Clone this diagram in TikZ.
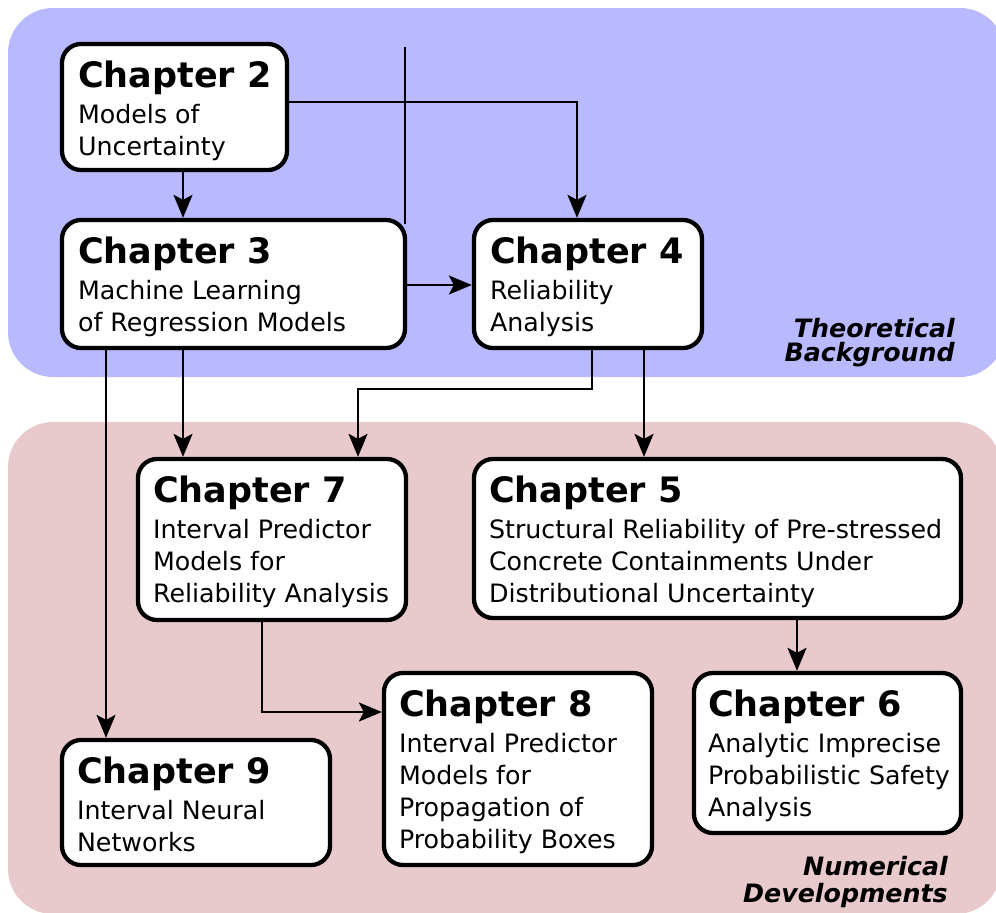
\documentclass[tikz,border=0pt]{standalone}
\usepackage{fontspec}
\setmainfont{DejaVu Sans}
\usetikzlibrary{arrows.meta,fit}

\definecolor{theorybg}{RGB}{185,185,255}
\definecolor{numericbg}{RGB}{232,201,204}

\tikzset{
  chbox/.style={draw=black, fill=white, line width=4.3pt, rounded corners=19pt, inner sep=0pt},
  chtitle/.style={anchor=base west, inner sep=0pt, font=\fontsize{35}{40}\selectfont\bfseries},
  chbody/.style={anchor=base west, inner sep=0pt, font=\fontsize{25.3}{32}\selectfont},
  conn/.style={line width=2.2pt},
  arr/.style={conn, -{Stealth[length=23pt,width=19pt,inset=5pt]}},
  region/.style={anchor=base east, inner sep=0pt, font=\fontsize{25.3}{24}\selectfont\bfseries\itshape},
}

\begin{document}
\begin{tikzpicture}[x=1pt,y=-1pt]
\useasboundingbox (0,0) rectangle (996,913);

% two shaded parts of the thesis
\fill[theorybg, rounded corners=45pt] (8,8) rectangle (1005,377);
\fill[numericbg, rounded corners=45pt] (8,422) rectangle (1001,914);

\node[region] (theory) at (955,337)
  {\parbox[t]{300pt}{\raggedleft Theoretical\\Background}};
\node[region, font=\fontsize{25.3}{27}\selectfont\bfseries\itshape] (numeric) at (948,875.5)
  {\parbox[t]{300pt}{\raggedleft Numerical\\Developments}};

% chapter boxes
\node[chbox, fit={(62,44) (287,170)}] (c2) {};
\node[chbox, fit={(62,220) (405,348)}] (c3) {};
\node[chbox, fit={(474,220) (702,348)}] (c4) {};
\node[chbox, fit={(138,459) (406,620)}] (c7) {};
\node[chbox, fit={(474,459) (961,618)}] (c5) {};
\node[chbox, fit={(384,673) (652,865)}] (c8) {};
\node[chbox, fit={(694,673) (961,833)}] (c6) {};
\node[chbox, fit={(62,740) (330,865)}] (c9) {};

% chapter titles and subtitles
\node[chtitle] (c2t) at ([shift={(18,46)}]c2.north west) {Chapter 2};
\node[chbody] (c2b) at ([shift={(0,36)}]c2t.base west)
  {\parbox[t]{400pt}{Models of\\Uncertainty}};

\node[chtitle] (c3t) at ([shift={(18,46)}]c3.north west) {Chapter 3};
\node[chbody] (c3b) at ([shift={(0,36)}]c3t.base west)
  {\parbox[t]{400pt}{Machine Learning\\of Regression Models}};

\node[chtitle] (c4t) at ([shift={(18,46)}]c4.north west) {Chapter 4};
\node[chbody] (c4b) at ([shift={(0,36)}]c4t.base west)
  {\parbox[t]{400pt}{Reliability\\Analysis}};

\node[chtitle] (c7t) at ([shift={(17,46)}]c7.north west) {Chapter 7};
\node[chbody] (c7b) at ([shift={(0,36)}]c7t.base west)
  {\parbox[t]{400pt}{Interval Predictor\\Models for\\Reliability Analysis}};

\node[chtitle] (c5t) at ([shift={(17,46)}]c5.north west) {Chapter 5};
\node[chbody] (c5b) at ([shift={(0,36)}]c5t.base west)
  {\parbox[t]{500pt}{Structural Reliability of Pre-stressed\\Concrete Containments Under\\Distributional Uncertainty}};

\node[chtitle] (c8t) at ([shift={(17,46)}]c8.north west) {Chapter 8};
\node[chbody] (c8b) at ([shift={(0,36)}]c8t.base west)
  {\parbox[t]{400pt}{Interval Predictor\\Models for\\Propagation of\\Probability Boxes}};

\node[chtitle] (c6t) at ([shift={(16,46)}]c6.north west) {Chapter 6};
\node[chbody] (c6b) at ([shift={(0,36)}]c6t.base west)
  {\parbox[t]{400pt}{Analytic Imprecise\\Probabilistic Safety\\Analysis}};

\node[chtitle] (c9t) at ([shift={(17,46)}]c9.north west) {Chapter 9};
\node[chbody] (c9b) at ([shift={(0,36)}]c9t.base west)
  {\parbox[t]{400pt}{Interval Neural\\Networks}};

% dependencies between chapters
\coordinate (stub) at (405,47);
\draw[conn] (stub) -- ([yshift=-6pt]405,0 |- c3.north);

\draw[arr] (183,0 |- c2.south) -- (183,0 |- c3.north);
\draw[arr] (c2.east |- 0,102) -| (577,0 |- c4.north);
\draw[arr] (c3.east |- 0,285) -- (c4.west |- 0,285);
\draw[arr] (183,0 |- c3.south) -- (183,0 |- c7.north);
\draw[arr] (106,0 |- c3.south) -- (106,0 |- c9.north);
\draw[arr] (592,0 |- c4.south) |- (358,389) -- (358,0 |- c7.north);
\draw[arr] (644,0 |- c4.south) -- (644,0 |- c5.north);
\draw[arr] (797,0 |- c5.south) -- (797,0 |- c6.north);
\draw[arr] (262,0 |- c7.south) |- (c8.west |- 0,712);

\end{tikzpicture}
\end{document}
